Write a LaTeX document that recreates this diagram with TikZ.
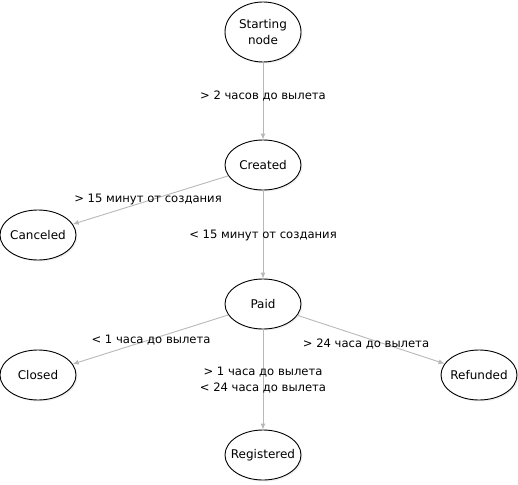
\documentclass[tikz,border=0pt]{standalone}
\usepackage{fontspec}
\setmainfont{DejaVu Sans}
\usetikzlibrary{arrows.meta,shapes.geometric,shadows}
\definecolor{edgegray}{HTML}{B8B8B8}
\tikzset{
  state/.style={ellipse, draw=black, line width=0.9pt, fill=white, minimum width=76pt, minimum height=50pt, inner xsep=-14pt, inner ysep=0pt, align=center, font=\fontsize{12}{15.5}\selectfont,
    drop shadow={opacity=0.12, shadow xshift=1.5pt, shadow yshift=-1.5pt}},
  tallstate/.style={state, minimum height=60pt},
  trans/.style={draw=edgegray, line width=0.9pt, -{Latex[length=6pt,width=5pt]}},
  lbl/.style={font=\fontsize{11.6}{16}\selectfont, inner sep=0pt, align=center}
}
\begin{document}
\begin{tikzpicture}[x=1pt,y=-1pt]
\useasboundingbox (0,0) rectangle (518,484);
\node[tallstate] (start) at (263,32) {Starting\\node};
\node[state] (created) at (263,165) {Created};
\node[state] (canceled) at (38,235) {Canceled};
\node[state] (paid) at (263,304) {Paid};
\node[state] (closed) at (38,375) {Closed};
\node[state] (refunded) at (479,375) {Refunded};
\node[state] (registered) at (263,455) {Registered};

\draw[trans] (start) -- (created);
\draw[trans] (created) -- (canceled);
\draw[trans] (created) -- (paid);
\draw[trans] (paid) -- (closed);
\draw[trans] (paid) -- (registered);
\draw[trans] (paid) -- (refunded);

\node[lbl] (l1) at (263,96) {> 2 часов до вылета};
\node[lbl] (l2) at (148,199) {> 15 минут от создания};
\node[lbl] (l3) at (263,235) {< 15 минут от создания};
\node[lbl] (l4) at (151,340) {< 1 часа до вылета};
\node[lbl] (l5) at (263,380) {> 1 часа до вылета\\< 24 часа до вылета};
\node[lbl] (l6) at (366,344) {> 24 часа до вылета};
\end{tikzpicture}
\end{document}
